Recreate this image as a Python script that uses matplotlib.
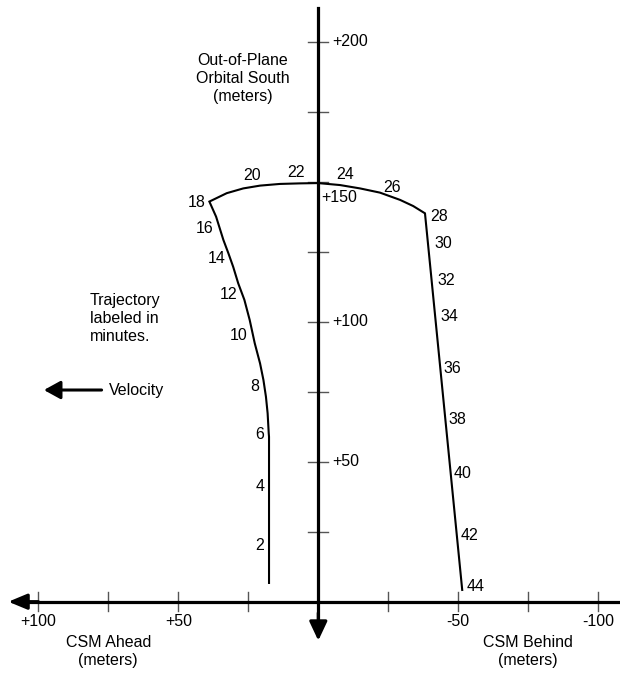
import matplotlib.pyplot as plt

plt.rcParams['font.family'] = ['Liberation Sans', 'DejaVu Sans']

# trajectory, meters (x = CSM ahead positive, y = out-of-plane south)
traj_x = [17.6, 17.6, 17.7, 18.1, 18.7, 19.6, 20.8, 22.7, 24.5, 26.4,
          28.6, 30.4, 32.1, 33.9, 36.5, 38.9,
          32.7, 26.8, 20.8, 13.7, 6.5, 0.0, -7.75, -14.9, -22.0,
          -29.2, -33.9, -38.1, -51.4]
traj_y = [6.7, 58.9, 60.1, 67.3, 73.2, 79.2, 85.1, 92.3, 100.6, 107.8,
          113.7, 119.6, 124.4, 129.2, 137.5, 142.9,
          145.9, 147.6, 148.6, 149.2, 149.4, 149.5, 148.8, 147.6, 146.1,
          143.5, 141.3, 138.7, 4.2]

# time labels (minutes) and where they sit
minutes = [2, 4, 6, 8, 10, 12, 14, 16, 18, 20, 22,
           24, 26, 28, 30, 32, 34, 36, 38, 40, 42, 44]
lab_x = [21.1, 20.9, 21.1, 22.7, 28.3, 32.2, 36.3, 40.5, 43.5, 23.8, 7.8,
         -9.7, -26.2, -43.1, -44.6, -45.6, -46.7, -48.0, -49.6, -51.7, -54.1, -56.2]
lab_y = [20.2, 41.0, 59.7, 76.7, 95.2, 109.7, 122.6, 133.3, 142.6, 152.1, 153.3,
         152.7, 148.0, 137.5, 127.9, 114.8, 101.7, 83.3, 65.2, 45.8, 23.5, 5.3]

x_ticks = [100, 75, 50, 25, -25, -50, -75, -100]
x_ticklabels = {100: '+100', 50: '+50', -50: '-50', -100: '-100'}
y_ticks = [25, 50, 75, 100, 125, 150, 175, 200]
y_ticklabels = {50: '+50', 100: '+100', 150: '+150', 200: '+200'}

fig = plt.figure(figsize=(6.2, 6.75), dpi=100)
ax = fig.add_axes([0, 0, 1, 1])
ax.set_xlim(113.68, -107.75)
ax.set_ylim(-26.18, 214.89)
ax.axis('off')

fs = 11.5
ls = 1.25
axis_lw = 2.3

# main axes with arrows
ax.plot([-108, 106], [0, 0], color='k', lw=axis_lw, zorder=3)
ax.annotate('', xy=(110.7, 0), xytext=(100, 0),
            arrowprops=dict(arrowstyle='-|>,head_length=1.13,head_width=0.47',
                            mutation_scale=10, color='k', lw=axis_lw,
                            shrinkA=0, shrinkB=0), zorder=4)
ax.plot([0, 0], [212.0, -6], color='k', lw=axis_lw, zorder=3)
ax.annotate('', xy=(0, -13.9), xytext=(0, -4),
            arrowprops=dict(arrowstyle='-|>,head_length=1.15,head_width=0.54',
                            mutation_scale=10, color='k', lw=axis_lw,
                            shrinkA=0, shrinkB=0), zorder=4)

for t in x_ticks:
    ax.plot([t, t], [-3.5, 3.5], color='#555555', lw=1)
    if t in x_ticklabels:
        ax.text(t, -7.1, x_ticklabels[t], ha='center', va='center', fontsize=fs)
for t in y_ticks:
    ax.plot([3.6, -3.6], [t, t], color='#555555', lw=1)
    if t in y_ticklabels:
        ty = t - 5.8 if t == 150 else t
        tx = -1.2 if t == 150 else -5.0
        ax.text(tx, ty, y_ticklabels[t], ha='left', va='center', fontsize=fs)

# trajectory
ax.plot(traj_x, traj_y, color='k', lw=1.5, solid_joinstyle='miter')
for m, lx, ly in zip(minutes, lab_x, lab_y):
    ax.text(lx, ly, str(m), ha='center', va='center', fontsize=fs)

# annotations
ax.text(75, -17.9, 'CSM Ahead\n(meters)', ha='center', va='center',
        fontsize=fs, linespacing=ls)
ax.text(-75, -17.9, 'CSM Behind\n(meters)', ha='center', va='center',
        fontsize=fs, linespacing=ls)
ax.text(26.9, 187.0, 'Out-of-Plane\nOrbital South\n(meters)', ha='center',
        va='center', fontsize=fs, linespacing=ls)
ax.text(81.5, 101.3, 'Trajectory\nlabeled in\nminutes.', ha='left',
        va='center', fontsize=fs, linespacing=ls)
ax.text(74.7, 75.6, 'Velocity', ha='left', va='center', fontsize=fs)
ax.annotate('', xy=(98.0, 75.6), xytext=(77.4, 75.6),
            arrowprops=dict(arrowstyle='-|>,head_length=1.0,head_width=0.55',
                            mutation_scale=10, color='k', lw=2.2,
                            shrinkA=0, shrinkB=0))

fig.savefig('out.png', dpi=100)
